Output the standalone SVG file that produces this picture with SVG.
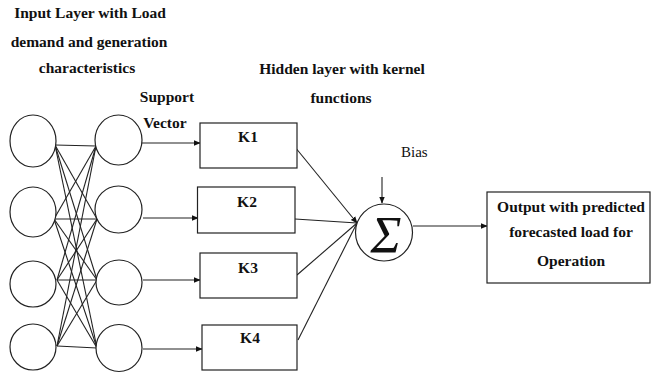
<svg xmlns="http://www.w3.org/2000/svg" width="653" height="376" viewBox="0 0 653 376">
  <style>
    .node { fill: #fff; stroke: #222; stroke-width: 1.2; }
    .edge { fill: none; stroke: #222; stroke-width: 1.1; }
    .lbl { font-family: 'Liberation Serif', 'Times New Roman', Tinos, 'DejaVu Serif', serif; font-weight: bold; font-size: 15.5px; fill: #111; text-anchor: middle; }
    .plain { font-family: 'Liberation Serif', 'Times New Roman', Tinos, 'DejaVu Serif', serif; font-size: 15px; fill: #111; }
    .sigma { font-family: 'Liberation Serif', 'Times New Roman', Tinos, 'DejaVu Serif', serif; font-style: italic; font-size: 52px; fill: #111; text-anchor: middle; }
  </style>
  <defs>
    <marker id="arr" viewBox="0 0 10 10" refX="9" refY="5" markerWidth="7" markerHeight="7" orient="auto" markerUnits="userSpaceOnUse">
      <path d="M0,1 L10,5 L0,9 z" fill="#111"/>
    </marker>
  </defs>

  <rect width="653" height="376" fill="#fff"/>

  <!-- Titles -->
  <g id="titles">
    <text class="lbl" x="90" y="18">Input Layer with Load</text>
    <text class="lbl" x="89" y="47">demand and generation</text>
    <text class="lbl" x="87" y="73">characteristics</text>
    <text class="lbl" x="167" y="102">Support</text>
    <text class="lbl" x="165" y="128">Vector</text>
    <text class="lbl" x="342" y="74">Hidden layer with kernel</text>
    <text class="lbl" x="341" y="103">functions</text>
    <text class="plain" x="401" y="157">Bias</text>
  </g>

  <!-- Connectors -->
  <g id="connectors">
    <!-- fully connected input -> support vector layer -->
    <g class="edge">
      <line x1="55" y1="145" x2="96" y2="146"/>
      <line x1="55" y1="145" x2="97" y2="219"/>
      <line x1="55" y1="145" x2="97" y2="280"/>
      <line x1="55" y1="145" x2="97" y2="348"/>
      <line x1="54" y1="219" x2="96" y2="146"/>
      <line x1="54" y1="219" x2="97" y2="219"/>
      <line x1="54" y1="219" x2="97" y2="280"/>
      <line x1="54" y1="219" x2="97" y2="348"/>
      <line x1="57" y1="280" x2="96" y2="146"/>
      <line x1="57" y1="280" x2="97" y2="219"/>
      <line x1="57" y1="280" x2="97" y2="280"/>
      <line x1="57" y1="280" x2="97" y2="348"/>
      <line x1="57" y1="346" x2="96" y2="146"/>
      <line x1="57" y1="346" x2="97" y2="219"/>
      <line x1="57" y1="346" x2="97" y2="280"/>
      <line x1="57" y1="346" x2="97" y2="348"/>
    </g>
    <!-- support vectors -> kernels -->
    <line class="edge" x1="141" y1="143" x2="200" y2="143" marker-end="url(#arr)"/>
    <line class="edge" x1="143" y1="218" x2="198" y2="218" marker-end="url(#arr)"/>
    <line class="edge" x1="143" y1="280" x2="200" y2="280" marker-end="url(#arr)"/>
    <line class="edge" x1="143" y1="349" x2="202" y2="349" marker-end="url(#arr)"/>
    <!-- kernels -> summation -->
    <line class="edge" x1="295" y1="147" x2="357" y2="223" marker-end="url(#arr)"/>
    <line class="edge" x1="295" y1="219" x2="357" y2="223"/>
    <line class="edge" x1="297" y1="275" x2="357" y2="223"/>
    <line class="edge" x1="298" y1="340" x2="357" y2="223"/>
    <!-- bias -->
    <line class="edge" x1="382" y1="177" x2="382" y2="203" marker-end="url(#arr)"/>
    <!-- summation -> output -->
    <line class="edge" x1="413" y1="226" x2="487" y2="226" marker-end="url(#arr)"/>
  </g>

  <!-- Input layer -->
  <g id="in1"><ellipse class="node" cx="33" cy="141" rx="23" ry="26"/></g>
  <g id="in2"><ellipse class="node" cx="33" cy="212" rx="23" ry="25"/></g>
  <g id="in3"><ellipse class="node" cx="33" cy="284" rx="23" ry="23"/></g>
  <g id="in4"><ellipse class="node" cx="33" cy="347" rx="23" ry="23"/></g>

  <!-- Support vector layer -->
  <g id="sv1"><ellipse class="node" cx="118.5" cy="140" rx="23.5" ry="25"/></g>
  <g id="sv2"><ellipse class="node" cx="118.5" cy="209.5" rx="23.5" ry="23.5"/></g>
  <g id="sv3"><ellipse class="node" cx="119" cy="282.5" rx="23" ry="22.5"/></g>
  <g id="sv4"><ellipse class="node" cx="119" cy="348" rx="23" ry="23.5"/></g>

  <!-- Kernel functions -->
  <g id="k1">
    <rect class="node" x="200" y="123" width="97" height="45"/>
    <text class="lbl" x="248" y="142">K1</text>
  </g>
  <g id="k2">
    <rect class="node" x="197.5" y="187" width="97.5" height="46"/>
    <text class="lbl" x="247" y="207">K2</text>
  </g>
  <g id="k3">
    <rect class="node" x="200" y="253" width="97" height="45"/>
    <text class="lbl" x="248" y="273">K3</text>
  </g>
  <g id="k4">
    <rect class="node" x="202" y="325" width="95" height="45"/>
    <text class="lbl" x="250" y="343">K4</text>
  </g>

  <!-- Summation -->
  <g id="sum">
    <circle class="node" cx="384" cy="232.5" r="28.5"/>
    <text class="sigma" x="386" y="253">Σ</text>
  </g>

  <!-- Output -->
  <g id="output">
    <rect class="node" x="487" y="192" width="163" height="91"/>
    <text class="lbl" x="571" y="212">Output with predicted</text>
    <text class="lbl" x="571" y="237">forecasted load for</text>
    <text class="lbl" x="571" y="266">Operation</text>
  </g>
</svg>
